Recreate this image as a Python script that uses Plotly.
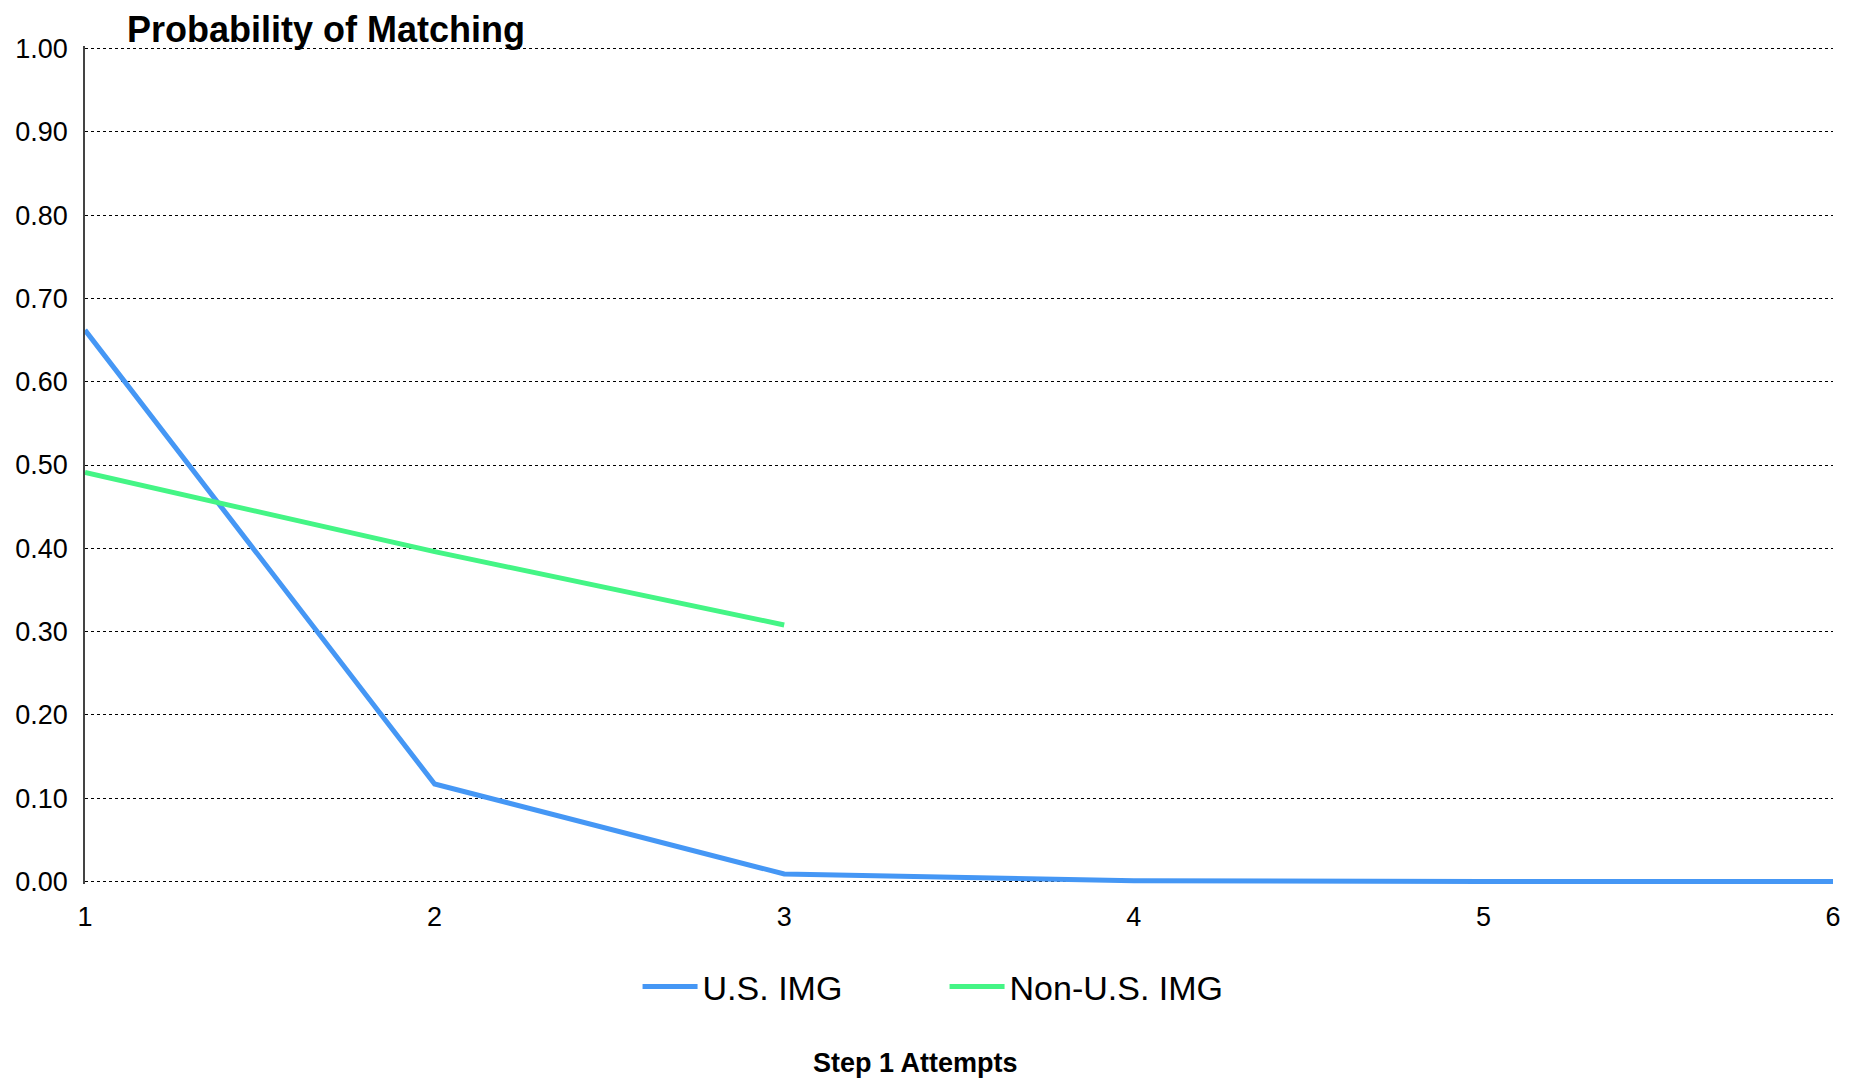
import plotly.graph_objects as go

attempts = [1, 2, 3, 4, 5, 6]
us_img = [0.662, 0.117, 0.009, 0.001, 0.0, 0.0]
non_us_attempts = [1, 2, 3]
non_us_img = [0.491, 0.396, 0.308]
y_ticks = [0.0, 0.1, 0.2, 0.3, 0.4, 0.5, 0.6, 0.7, 0.8, 0.9, 1.0]

FONT = "Liberation Sans, Arial, sans-serif"
W, H = 1852, 1073  # page body has an 8px margin

fig = go.Figure()
fig.add_trace(go.Scatter(x=attempts, y=us_img, mode="lines", name="U.S. IMG",
                         line=dict(color="#4597f5", width=5)))
fig.add_trace(go.Scatter(x=non_us_attempts, y=non_us_img, mode="lines", name="Non-U.S. IMG",
                         line=dict(color="#44f585", width=5)))

fig.update_layout(
    width=W, height=H,
    paper_bgcolor="white", plot_bgcolor="white",
    margin=dict(l=77, r=27, t=38, b=197, pad=0, autoexpand=False),
    font=dict(family=FONT, color="black"),
    title=dict(text="<b>Probability of Matching</b>", font=dict(size=36, family=FONT, color="black"),
               x=119 / W, xanchor="left", xref="container",
               y=1 - 21 / H, yanchor="middle", yref="container"),
    legend=dict(orientation="h", x=0.5057, xanchor="center", xref="container",
                y=1 - 979 / H, yanchor="middle", yref="container",
                font=dict(size=34, family=FONT, color="black"),
                entrywidth=237, itemwidth=55),
    showlegend=True,
    annotations=[dict(text="<b>Step 1 Attempts</b>", xref="paper", yref="paper",
                      x=0.4754, y=(-181 + 2.5) / 838, xanchor="center", yanchor="middle",
                      showarrow=False, font=dict(size=27, family=FONT, color="black"))],
)
fig.update_xaxes(range=[1, 6], tickvals=attempts, ticks="", showgrid=False, zeroline=False,
                 showline=False, automargin=False,
                 tickfont=dict(size=27, family=FONT, color="black"),
                 ticklabelstandoff=14)
fig.update_yaxes(range=[-0.003, 1.003], tickvals=y_ticks, tickformat=".2f", ticks="", showgrid=True,
                 gridcolor="black", griddash="dot", gridwidth=1, zeroline=False,
                 showline=True, linecolor="#444444", linewidth=1.5, automargin=False,
                 tickfont=dict(size=27, family=FONT, color="black"),
                 ticklabelstandoff=10)

fig.write_html("out.html")
